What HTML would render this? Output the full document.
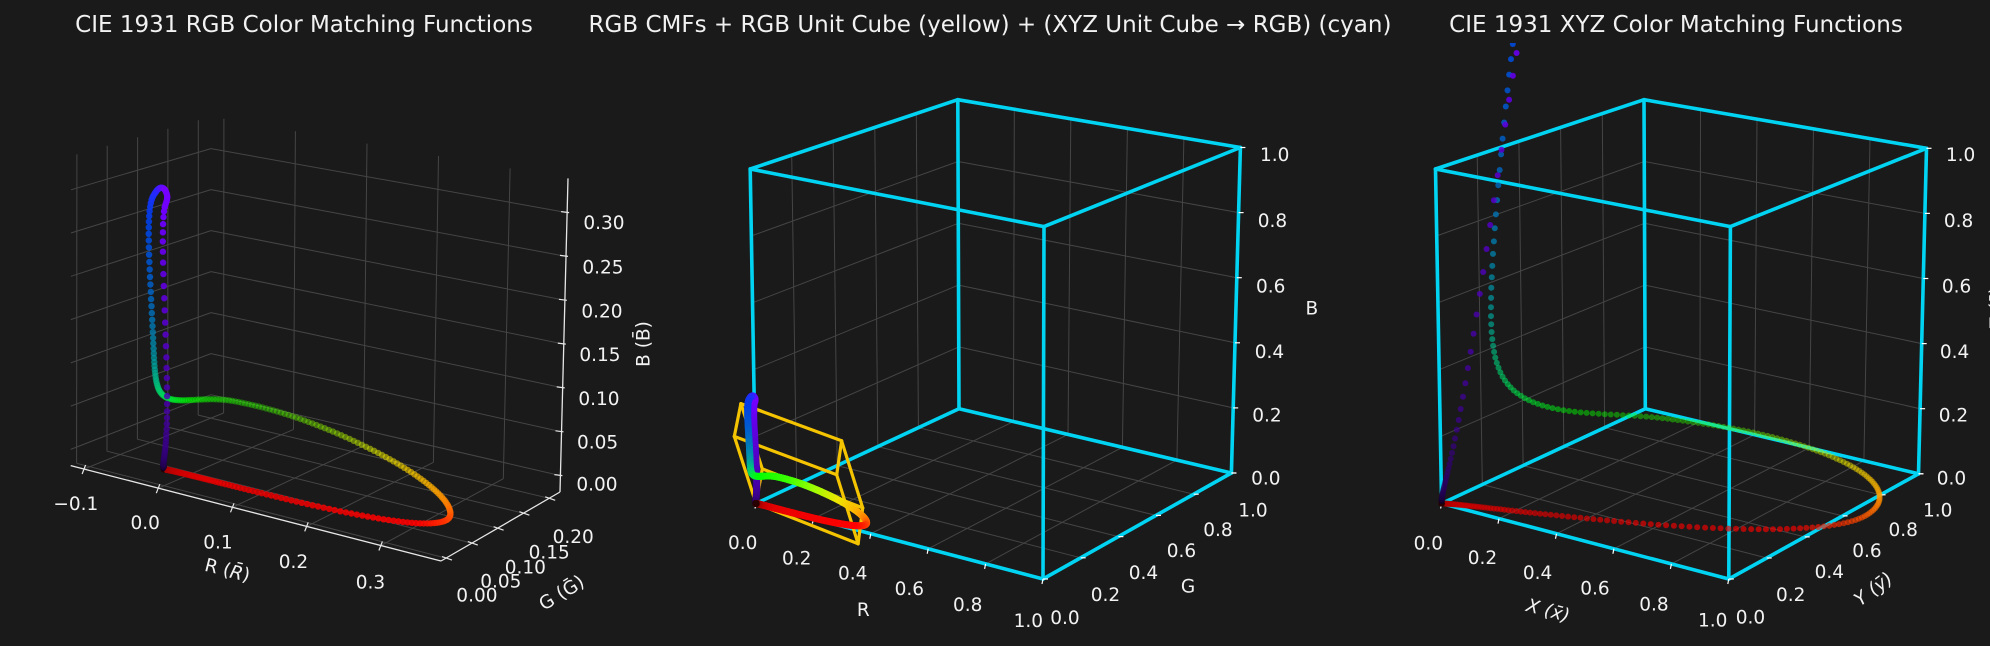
<!DOCTYPE html>
<html><head><meta charset="utf-8">
<style>
html,body{margin:0;padding:0;background:#1a1a1a;}
svg{display:block;}
text{font-family:"DejaVu Sans","Liberation Sans",sans-serif;fill:#f2f2f2;}
</style></head>
<body>
<svg id="s" xmlns="http://www.w3.org/2000/svg" width="1990" height="646" viewBox="0 0 1990 646">
<rect width="1990" height="646" fill="#1a1a1a"/>
<defs><clipPath id="c3"><rect x="1360" y="43" width="630" height="603"/></clipPath></defs>
<g id="g1"></g><g id="g2"></g><g id="g3" clip-path="url(#c3)"></g>
<g font-size="23" text-anchor="middle">
<text x="304" y="32">CIE 1931 RGB Color Matching Functions</text>
<text x="990" y="32">RGB CMFs + RGB Unit Cube (yellow) + (XYZ Unit Cube → RGB) (cyan)</text>
<text x="1676" y="32">CIE 1931 XYZ Color Matching Functions</text>
</g>
<g font-size="18.5" text-anchor="middle" dominant-baseline="central">
<text x="597" y="485">0.00</text><text x="597.6" y="443">0.05</text><text x="599" y="399.7">0.10</text>
<text x="600" y="355.6">0.15</text><text x="602" y="312">0.20</text><text x="603" y="267.8">0.25</text><text x="604" y="223.7">0.30</text>
<text x="75.8" y="504.7">−0.1</text><text x="145.2" y="523.3">0.0</text><text x="218" y="543">0.1</text>
<text x="293.4" y="562.4">0.2</text><text x="370.4" y="583">0.3</text>
<text x="476.9" y="596.2">0.00</text><text x="500.8" y="581.8">0.05</text><text x="525.3" y="567.8">0.10</text>
<text x="549.2" y="553">0.15</text><text x="573.2" y="537.7">0.20</text>
<text transform="translate(227.3,570.7) rotate(14)">R (<tspan font-style="italic">R̄</tspan>)</text>
<text transform="translate(561.9,593.3) rotate(-32)">G (<tspan>Ḡ</tspan>)</text>
<text transform="translate(644,344) rotate(-90)">B (B̄)</text>
<text x="1274.7" y="155.7">1.0</text><text x="1272.5" y="221.3">0.8</text><text x="1270.7" y="287.2">0.6</text>
<text x="1269.4" y="352.3">0.4</text><text x="1267" y="416.2">0.2</text><text x="1265.8" y="479.2">0.0</text>
<text x="742.7" y="543.3">0.0</text><text x="796.7" y="559">0.2</text><text x="852.7" y="574">0.4</text>
<text x="909.3" y="589.3">0.6</text><text x="967.7" y="605.7">0.8</text><text x="1028.3" y="621.7">1.0</text>
<text x="1065" y="618.3">0.0</text><text x="1105.5" y="595.4">0.2</text><text x="1143.5" y="573.5">0.4</text>
<text x="1181.4" y="551.3">0.6</text><text x="1218" y="530.7">0.8</text><text x="1252.9" y="511">1.0</text>
<text x="863.3" y="610.7">R</text><text x="1188" y="587">G</text><text x="1311.8" y="309">B</text>
<text x="1960.6" y="155.7">1.0</text><text x="1958.6" y="221.3">0.8</text><text x="1956.6" y="287.2">0.6</text>
<text x="1954.6" y="352.3">0.4</text><text x="1953.4" y="416.2">0.2</text><text x="1951.4" y="479.2">0.0</text>
<text x="1428.3" y="543.9">0.0</text><text x="1482.5" y="558.3">0.2</text><text x="1537.6" y="573.5">0.4</text>
<text x="1595" y="589.2">0.6</text><text x="1654" y="604.9">0.8</text><text x="1712.7" y="621">1.0</text>
<text x="1750.5" y="618">0.0</text><text x="1790.7" y="595.4">0.2</text><text x="1829.3" y="572.7">0.4</text>
<text x="1867" y="551.3">0.6</text><text x="1903.2" y="530.7">0.8</text><text x="1937.7" y="511">1.0</text>
<text transform="translate(1548,610.6) rotate(15)"><tspan font-style="italic">X (x̄)</tspan></text>
<text transform="translate(1873.5,589.2) rotate(-37)"><tspan font-style="italic">Y (ȳ)</tspan></text>
<text transform="translate(1997,309) rotate(-90)"><tspan font-style="italic">Z (z̄)</tspan></text>
</g>
</svg>
<script>
(function(){
function tri(C,u,v,w){
  function L(a,b,t){return [a[0]+(b[0]-a[0])*t,a[1]+(b[1]-a[1])*t];}
  var b0=L(L(C[0],C[1],u),L(C[3],C[2],u),v);
  var b1=L(L(C[4],C[5],u),L(C[7],C[6],u),v);
  return L(b0,b1,w);
}
function line(p,q,col,w,extra){return '<line x1="'+p[0].toFixed(1)+'" y1="'+p[1].toFixed(1)+'" x2="'+q[0].toFixed(1)+'" y2="'+q[1].toFixed(1)+'" stroke="'+col+'" stroke-width="'+w+'"'+(extra||'')+'/>';}
var C1=[[70.7,465.6],[441,561],[560,492],[211,410],[71,156],[445,231],[568,178.4],[211,116.6]];
var C2=[[756,503.5],[1043,579],[1231.4,473],[959,408.7],[750.2,169],[1044,226.6],[1240.4,147.5],[957.8,99.7]];
var C3=[[1441.6,503.5],[1728.8,579],[1918.5,473.8],[1645.3,408.7],[1435.5,169],[1730.4,226.6],[1926.5,148.3],[1644,99.7]];
var GC='#454545';
function grid(C,uT,vT,wT){
  var s='';
  vT.forEach(function(v){s+=line(tri(C,0,v,0),tri(C,0,v,1),GC,1);});
  wT.forEach(function(w){s+=line(tri(C,0,0,w),tri(C,0,1,w),GC,1);});
  uT.forEach(function(u){s+=line(tri(C,u,1,0),tri(C,u,1,1),GC,1);});
  wT.forEach(function(w){s+=line(tri(C,0,1,w),tri(C,1,1,w),GC,1);});
  uT.forEach(function(u){s+=line(tri(C,u,0,0),tri(C,u,1,0),GC,1);});
  vT.forEach(function(v){s+=line(tri(C,0,v,0),tri(C,1,v,0),GC,1);});
  return s;
}
function g(l,mu,s1,s2){var t=(l-mu)/(l<mu?s1:s2);return Math.exp(-0.5*t*t);}
function cmf(l){
  var x=1.056*g(l,599.8,37.9,31.0)+0.362*g(l,442.0,16.0,26.7)-0.065*g(l,501.1,20.4,26.2);
  var y=0.821*g(l,568.8,46.9,40.5)+0.286*g(l,530.9,16.3,31.1);
  var z=1.217*g(l,437.0,11.8,36.0)+0.681*g(l,459.0,26.0,13.8);
  return [x,y,z];
}
function toRGB(v){var k=0.17697;return [k*(2.36461*v[0]-0.89654*v[1]-0.46807*v[2]),k*(-0.51517*v[0]+1.42641*v[1]+0.08876*v[2]),k*(0.00520*v[0]-0.01441*v[1]+1.00920*v[2])];}
var stops=[[380,[16,0,32]],[400,[40,0,96]],[420,[80,0,190]],[435,[110,0,255]],[445,[120,0,255]],[455,[40,40,255]],[465,[0,64,230]],[475,[0,100,200]],[485,[0,150,170]],[495,[0,200,120]],[505,[0,235,60]],[515,[0,255,0]],[540,[60,255,0]],[555,[150,255,0]],[570,[240,230,0]],[585,[255,170,0]],[600,[255,90,0]],[615,[255,0,0]],[660,[230,0,0]],[700,[150,0,0]],[740,[80,0,0]],[780,[40,0,0]]];
function wl(l){for(var i=0;i<stops.length-1;i++){var a=stops[i],b=stops[i+1];if(l<=b[0]){var t=(l-a[0])/(b[0]-a[0]);return 'rgb('+[0,1,2].map(function(k){return Math.round(a[1][k]+(b[1][k]-a[1][k])*t);}).join(',')+')';}}return 'rgb(40,0,0)';}
function scatter(C,norm,r,pts,att){
  var arr=pts.map(function(p){var n=norm(p.v);return {l:p.l,n:n,d:-(0.433*n[0]-0.75*n[1]+0.5*n[2])};});
  var mn=Infinity,mx=-Infinity;arr.forEach(function(a){mn=Math.min(mn,a.d);mx=Math.max(mx,a.d);});
  arr.sort(function(a,b){return b.d-a.d;});
  var s='';
  arr.forEach(function(a){var p=tri(C,a.n[0],a.n[1],a.n[2]);var al=1-att*(a.d-mn)/(mx-mn);
    s+='<circle cx="'+p[0].toFixed(1)+'" cy="'+p[1].toFixed(1)+'" r="'+r+'" fill="'+wl(a.l)+'" fill-opacity="'+al.toFixed(2)+'"/>';});
  return s;
}
var pts=[];for(var l=380;l<=780;l++){pts.push({l:l,xyz:cmf(l)});}
pts.forEach(function(p){p.rgb=toRGB(p.xyz);});
var Rmin=-0.118,Rmax=0.381,Gmin=-0.0097,Gmax=0.221,Bmin=-0.0187,Bmax=0.339;
function n1(v){return [(v[0]-Rmin)/(Rmax-Rmin),(v[1]-Gmin)/(Gmax-Gmin),(v[2]-Bmin)/(Bmax-Bmin)];}
var uT=[-0.1,0,0.1,0.2,0.3].map(function(r){return (r-Rmin)/(Rmax-Rmin);});
var vT=[0,0.05,0.1,0.15,0.2].map(function(r){return (r-Gmin)/(Gmax-Gmin);});
var wT=[0,0.05,0.1,0.15,0.2,0.25,0.3].map(function(r){return (r-Bmin)/(Bmax-Bmin);});
var s1=grid(C1,uT,vT,wT);
var AX='#e6e6e6';
s1+=line(C1[0],C1[1],AX,1.3)+line(C1[1],C1[2],AX,1.3)+line(C1[2],C1[6],AX,1.3);
uT.forEach(function(u){var p=tri(C1,u,0,0);s1+=line([p[0]+1.5,p[1]-4],[p[0]-2,p[1]+5],AX,1.2);});
vT.forEach(function(v){var p=tri(C1,1,v,0);s1+=line([p[0]-4,p[1]-1.5],[p[0]+6,p[1]+2],AX,1.2);});
wT.forEach(function(w){var p=tri(C1,1,1,w);s1+=line([p[0]-6,p[1]-1],[p[0]+2,p[1]],AX,1.2);});
s1+=scatter(C1,n1,3.2,pts.map(function(p){return {l:p.l,v:p.rgb};}),0.65);
document.getElementById('g1').innerHTML=s1;
var T=[0,0.2,0.4,0.6,0.8,1];
var s2=grid(C2,T,T,T);
var CY='#00d4f2';
function cube(C,col,w){var E=[[0,1],[1,2],[2,3],[3,0],[4,5],[5,6],[6,7],[7,4],[0,4],[1,5],[2,6],[3,7]];var s='';E.forEach(function(e){s+=line(C[e[0]],C[e[1]],col,w,' stroke-linecap="round"');});return s;}
s2+=cube(C2,CY,3.6);
T.forEach(function(u){var p=tri(C2,u,0,0);s2+=line([p[0],p[1]],[p[0]-1,p[1]+5],'#fff',1.2);});
T.forEach(function(v){var p=tri(C2,1,v,0);s2+=line([p[0],p[1]],[p[0]+5,p[1]],'#fff',1.2);});
T.forEach(function(w){var p=tri(C2,1,1,w);s2+=line([p[0],p[1]],[p[0]+5,p[1]],'#fff',1.2);});
var X=toRGB([1,0,0]),Y=toRGB([0,1,0]),Z=toRGB([0,0,1]);
function add(a,b){return [a[0]+b[0],a[1]+b[1],a[2]+b[2]];}
var O=[0,0,0];
var V=[O,X,add(X,Y),Y,Z,add(X,Z),add(add(X,Y),Z),add(Y,Z)];
var P=V.map(function(v){return tri(C2,v[0],v[1],v[2]);});
s2+=cube(P,'#f5c400',3.2);
for(var i=0;i<pts.length-1;i++){var a=pts[i].rgb,b=pts[i+1].rgb;var pa=tri(C2,a[0],a[1],a[2]),pb=tri(C2,b[0],b[1],b[2]);
  s2+=line(pa,pb,wl(pts[i].l),7,' stroke-linecap="round"');}
document.getElementById('g2').innerHTML=s2;
var s3=grid(C3,T,T,T);
s3+=cube(C3,CY,3.6);
T.forEach(function(u){var p=tri(C3,u,0,0);s3+=line([p[0],p[1]],[p[0]-1,p[1]+5],'#fff',1.2);});
T.forEach(function(v){var p=tri(C3,1,v,0);s3+=line([p[0],p[1]],[p[0]+5,p[1]],'#fff',1.2);});
T.forEach(function(w){var p=tri(C3,1,1,w);s3+=line([p[0],p[1]],[p[0]+5,p[1]],'#fff',1.2);});
s3+=scatter(C3,function(v){return v;},3,pts.map(function(p){return {l:p.l,v:p.xyz};}),0.6);
document.getElementById('g3').innerHTML=s3;
})();
</script>
</body></html>
